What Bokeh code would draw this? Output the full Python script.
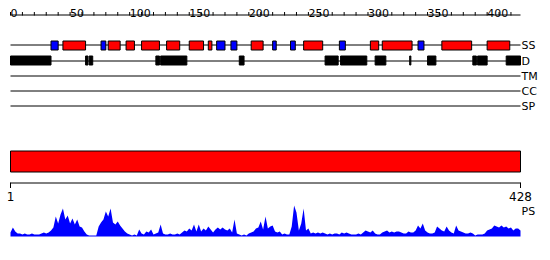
from bokeh.plotting import figure
from bokeh.models import Range1d
from bokeh.embed import file_html
from bokeh.resources import INLINE
from bokeh.core.properties import value

# ---------------- data ----------------
seq_length = 428
ruler_major = [0, 50, 100, 150, 200, 250, 300, 350, 400]
ruler_minor = list(range(0, 421, 10))
end_labels = ["1", "428"]
end_positions = [0, 428]
track_names = ["SS", "D", "TM", "CC", "SP"]

helix_start = [44, 82, 97, 110, 131, 150, 166, 202, 246, 302, 312, 362, 400]
helix_end   = [63, 92, 104, 125, 142, 162, 169, 212, 262, 309, 337, 387, 419]
strand_start = [34, 76, 173, 185, 220, 235, 276, 342]
strand_end   = [40, 80, 180, 190, 223, 239, 281, 347]
disorder_start = [0, 63, 66, 122, 126, 192, 264, 277, 306, 335, 350, 388, 392, 416]
disorder_end   = [34, 65, 69, 125, 148, 196, 275, 299, 315, 336, 357, 391, 400, 428]
domain_start = [0]
domain_end = [428]

ps_pos = list(range(0, 429, 2))
ps_score = [
    4, 9, 5, 3, 3, 2, 3, 2, 2, 3, 2, 2, 2, 3, 4, 3, 4, 6, 9, 20,
    13, 22, 28, 17, 21, 13, 18, 12, 17, 10, 9, 5, 2, 1, 1, 1, 1, 10, 14, 17,
    25, 20, 28, 14, 12, 15, 11, 8, 5, 3,
    2, 1, 2, 1, 7, 3, 2, 5, 4, 7, 2, 3, 4, 12, 3, 2, 2, 3, 2, 2,
    3, 2, 4, 6, 5, 8, 6, 12, 5, 12, 5, 8, 6, 10, 7, 4, 7, 9, 7, 9,
    7, 6, 8, 4, 17, 3, 2, 1, 2, 1,
    3, 4, 5, 8, 9, 15, 7, 20, 8, 10, 11, 5, 4, 5, 2, 3, 2, 2, 10, 31,
    24, 6, 13, 28, 6, 8, 3, 4, 3, 4, 3, 4, 3, 2, 3, 2, 3, 3, 2, 4,
    3, 4, 3, 2, 2, 2, 3, 2, 4, 6,
    5, 4, 6, 3, 2, 2, 4, 5, 6, 4, 5, 4, 5, 5, 4, 3, 3, 5, 4, 4,
    6, 11, 8, 13, 6, 4, 3, 3, 4, 10, 8, 6, 5, 10, 6, 4, 3, 11, 6, 5,
    4, 3, 3, 4, 3, 1, 2, 2, 2, 3,
    6, 7, 8, 11, 10, 9, 11, 9, 10, 8, 9, 6, 8, 8, 6,
]

# ---------------- figure ----------------
W, H = 550, 260
px_left, px_right = 10.0, 520.0
scale = (px_right - px_left) / seq_length
x0 = -px_left / scale
x1 = x0 + W / scale

p = figure(width=W, height=H, x_range=Range1d(x0, x1), y_range=Range1d(H, 0),
           output_backend="svg", toolbar_location=None, min_border=0,
           x_axis_type=None, y_axis_type=None)
p.grid.visible = False
p.outline_line_color = None
p.background_fill_color = "white"
p.border_fill_color = "white"
p.extra_y_ranges = {"ps": Range1d(-24, 236)}

FONT = value("DejaVu Sans")

# top ruler
p.segment(x0=[0], y0=[14.5], x1=[seq_length], y1=[14.5], line_color="black", line_width=1)
p.segment(x0=ruler_minor, y0=[11.5] * len(ruler_minor), x1=ruler_minor,
          y1=[15] * len(ruler_minor), line_color="black", line_width=1)
p.text(x=ruler_major, y=[12] * len(ruler_major), text=[str(v) for v in ruler_major],
       text_align="left", text_baseline="alphabetic", text_font=FONT,
       text_font_size="11px", text_color="black")

# tracks
track_y = [44.5, 60.5, 75.5, 90.5, 105.5]
p.segment(x0=[0] * 5, y0=track_y, x1=[seq_length] * 5, y1=track_y,
          line_color="black", line_width=1)
p.text(x=[seq_length] * 5, y=track_y, text=track_names, x_offset=1,
       text_align="left", text_baseline="middle", text_font=FONT,
       text_font_size="11px", text_color="black")

ss_c, d_c = 45.0, 60.0
p.quad(left=helix_start, right=helix_end, top=ss_c - 4.5, bottom=ss_c + 4.5,
       fill_color="#ff0000", line_color="black", line_width=1)
p.quad(left=strand_start, right=strand_end, top=ss_c - 4.5, bottom=ss_c + 4.5,
       fill_color="#0000ff", line_color="black", line_width=1)
p.quad(left=disorder_start, right=disorder_end, top=d_c - 4.5, bottom=d_c + 4.5,
       fill_color="black", line_color="black", line_width=1)

# domain bar
p.quad(left=domain_start, right=domain_end, top=150.5, bottom=171.5,
       fill_color="#ff0000", line_color="black", line_width=1)

# bottom ruler
p.segment(x0=[0], y0=[182.5], x1=[seq_length], y1=[182.5], line_color="black", line_width=1)
p.segment(x0=end_positions, y0=[182] * 2, x1=end_positions, y1=[187.5] * 2,
          line_color="black", line_width=1)
p.text(x=end_positions, y=[196] * 2, text=end_labels, text_align="center",
       text_baseline="middle", text_font=FONT, text_font_size="12px", text_color="black")

# PS profile
p.varea(x=ps_pos, y1=[0] * len(ps_pos), y2=ps_score, y_range_name="ps",
        fill_color="#0000ff")
p.text(x=[seq_length], y=[211], text=["PS"], x_offset=1, text_align="left",
       text_baseline="middle", text_font=FONT, text_font_size="11px", text_color="black")

open("out.html", "w").write(file_html(p, INLINE))
